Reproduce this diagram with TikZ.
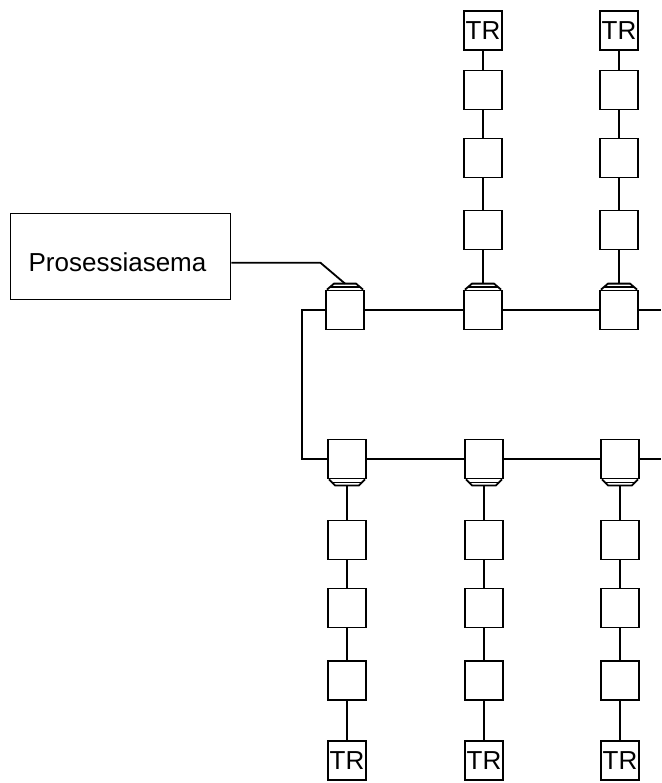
\documentclass[tikz,border=0pt]{standalone}
\usepackage{fontspec}
\setmainfont{Liberation Sans}
\usetikzlibrary{calc}

% cap drawn on top of a hub box, opening towards the chain above
\newcommand\hubcapabove[1]{%
  \draw ($(#1.north)+(-18,0)$) -- ($(#1.north)+(-11,-6)$) -- ($(#1.north)+(11,-6)$) -- ($(#1.north)+(18,0)$);
  \draw ($(#1.north)+(-15,-3)$) -- ($(#1.north)+(15,-3)$);
  \coordinate (#1cap) at ($(#1.north)+(0,-6)$);
}
% cap drawn under a hub box, opening towards the chain below
\newcommand\hubcapbelow[1]{%
  \draw ($(#1.south)+(-18,0)$) -- ($(#1.south)+(-12,6)$) -- ($(#1.south)+(12,6)$) -- ($(#1.south)+(18,0)$);
  \draw ($(#1.south)+(-15,3)$) -- ($(#1.south)+(15,3)$);
  \coordinate (#1cap) at ($(#1.south)+(0,6)$);
}

\begin{document}
\begin{tikzpicture}[x=1pt,y=-1pt,line width=1.8pt,
  unitbox/.style={draw,fill=white,minimum width=38pt,minimum height=39pt,inner sep=0pt},
  trbox/.style={unitbox,font=\fontsize{26}{26}\selectfont},
  mainbox/.style={draw,minimum width=220pt,minimum height=86pt,inner sep=0pt},
  labeltext/.style={font=\fontsize{26}{26}\selectfont,inner sep=0pt}]

\useasboundingbox (0,0) rectangle (661,783);

% control station
\node[mainbox] (ps) at (120.5,256.5) {};
\node[labeltext,anchor=base] (pslabel) at (117.5,272) {Prosessiasema};

% upper bus
\node[unitbox] (t1) at (345,310) {};
\node[unitbox] (t2) at (483,310) {};
\node[unitbox] (t3) at (619,310) {};
\hubcapabove{t1}
\hubcapabove{t2}
\hubcapabove{t3}

% lower bus
\node[unitbox] (b1) at (347,459) {};
\node[unitbox] (b2) at (484,459) {};
\node[unitbox] (b3) at (620,459) {};
\hubcapbelow{b1}
\hubcapbelow{b2}
\hubcapbelow{b3}

% upper chains
\foreach \c/\x in {2/483,3/619}{
  \node[unitbox] (t\c a) at (\x,230) {};
  \node[unitbox] (t\c b) at (\x,158) {};
  \node[unitbox] (t\c c) at (\x,90) {};
  \node[trbox] (t\c tr) at (\x,30.5) {TR};
  \draw (t\c cap) -- (t\c a) -- (t\c b) -- (t\c c) -- (t\c tr);
}

% lower chains
\foreach \c/\x in {1/347,2/484,3/620}{
  \node[unitbox] (b\c a) at (\x,540) {};
  \node[unitbox] (b\c b) at (\x,608) {};
  \node[unitbox] (b\c c) at (\x,680.5) {};
  \node[trbox] (b\c tr) at (\x,760.5) {TR};
  \draw (b\c cap) -- (b\c a) -- (b\c b) -- (b\c c) -- (b\c tr);
}

% bus lines
\coordinate (tend) at (661,310);
\coordinate (bend) at (661,459);
\draw (t1) -- (t2) -- (t3) -- (tend);
\draw (b1) -- (b2) -- (b3) -- (bend);
\draw (t1.west) -- ++(-23,0) |- (b1.west);

% link from the control station
\coordinate (psout) at (ps.east |- pslabel.center);
\coordinate (knee) at ($(psout)+(89,0)$);
\draw (psout) -- (knee) -- (t1cap);

\end{tikzpicture}
\end{document}
